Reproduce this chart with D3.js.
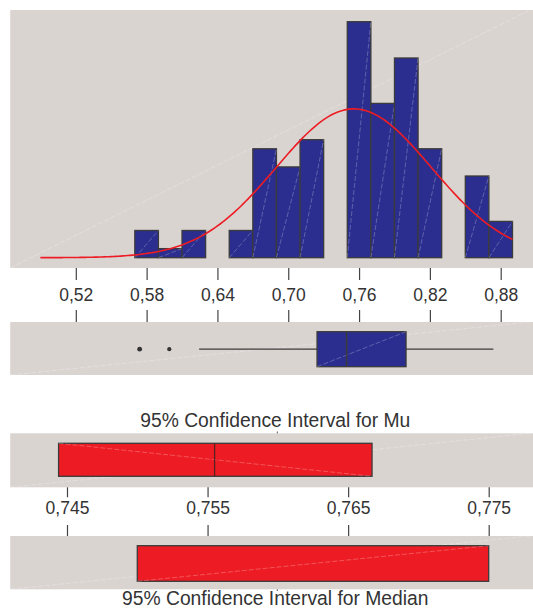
<!DOCTYPE html>
<html>
<head>
<meta charset="utf-8">
<script src="https://cdn.jsdelivr.net/npm/d3@7"></script>
<style>
  html, body { margin: 0; padding: 0; background: #ffffff; }
  svg { display: block; font-family: "Liberation Sans", Arial, Helvetica, sans-serif; }
</style>
</head>
<body>
<svg id="chart" width="533" height="610"></svg>
<script>
// Histogram bins (centres, width 0.02) and their counts
const binCenters = [0.58, 0.60, 0.62, 0.64, 0.66, 0.68, 0.70, 0.72, 0.74, 0.76, 0.78, 0.80, 0.82, 0.84, 0.86, 0.88];
const binCounts  = [3, 1, 3, 0, 3, 12, 10, 13, 0, 26, 17, 22, 12, 0, 9, 4];
const binWidth = 0.02;

// Fitted normal: sample mean, standard deviation, size
const sampleMean = 0.7555;
const sampleSd = 0.0657;
const sampleN = 135;
const curveRange = [0.49, 0.89];

// Box plot summary
const boxStats = { whiskerLow: 0.6245, q1: 0.7244, median: 0.7494, q3: 0.7998, whiskerHigh: 0.8738 };
const outliers = [0.5741, 0.5992];

// Confidence intervals
const ciMu = { low: 0.7444, mid: 0.7555, high: 0.7667 };
const ciMedian = { low: 0.7500, high: 0.7750 };

// Tick labels
const mainTicks = [0.52, 0.58, 0.64, 0.70, 0.76, 0.82, 0.88];
const ciTicks = [0.745, 0.755, 0.765, 0.775];

const panelFill = "#dad4d1";
const barFill = "#2c2e8f";
const edge = "#3b3b3b";
const red = "#ed1c24";
const textColor = "#333333";
const fmtComma = d => d3.format(".2f")(d).replace(".", ",");
const fmtComma3 = d => d3.format(".3f")(d).replace(".", ",");

const svg = d3.select("#chart");

const x = d3.scaleLinear().domain([0.52, 0.88]).range([75.8, 500.7]);
const y = d3.scaleLinear().domain([0, 26]).range([257.7, 21.7]);
const xc = d3.scaleLinear().domain([0.745, 0.775]).range([67.0, 488.7]);
const midX = 275.3;

// faint diagonal seam lines across filled areas
function seam(g, x1, y1, x2, y2) {
  g.append("line")
    .attr("x1", x1).attr("y1", y1).attr("x2", x2).attr("y2", y2)
    .attr("stroke", "#ffffff").attr("stroke-opacity", 0.35)
    .attr("stroke-width", 0.7).attr("stroke-dasharray", "5,2");
}

function panel(top, bottom) {
  const g = svg.append("g");
  g.append("rect").attr("x", 10.2).attr("y", top).attr("width", 530).attr("height", bottom - top).attr("fill", panelFill);
  seam(g, 10.2, bottom, 530, top);
  return g;
}

// ---- Histogram panel ----
const hist = panel(10, 268);
const bars = hist.append("g");
binCenters.forEach((c, i) => {
  const x0 = x(c - binWidth / 2), x1 = x(c + binWidth / 2);
  const yTop = y(binCounts[i]);
  bars.append("rect")
    .attr("x", x0).attr("y", yTop)
    .attr("width", x1 - x0).attr("height", y(0) - yTop)
    .attr("fill", barFill).attr("stroke", edge).attr("stroke-width", 1.3);
  if (binCounts[i] > 0) seam(bars, x0, y(0), x1, yTop);
});

// fitted normal curve, scaled to counts per bin
const normalPdf = v => Math.exp(-0.5 * ((v - sampleMean) / sampleSd) ** 2) / (sampleSd * Math.sqrt(2 * Math.PI));
const curveX = d3.range(curveRange[0], curveRange[1] + 1e-9, 0.002);
hist.append("path")
  .datum(curveX)
  .attr("fill", "none").attr("stroke", red).attr("stroke-width", 1.6)
  .attr("d", d3.line().x(v => x(v)).y(v => y(sampleN * binWidth * normalPdf(v))));

// ---- Main axis between histogram and box plot ----
const axisTop = svg.append("g").attr("transform", "translate(0,268)")
  .call(d3.axisBottom(x).tickValues(mainTicks).tickSize(12).tickFormat(fmtComma));
axisTop.select(".domain").remove();
axisTop.selectAll(".tick line").attr("stroke", "#444").attr("stroke-width", 1.2);
axisTop.selectAll(".tick text")
  .attr("y", 32.5).attr("dy", 0)
  .attr("fill", textColor).attr("font-size", 17.5)
  .attr("font-family", "'Liberation Sans', Arial, sans-serif");

const axisBelow = svg.append("g").attr("transform", "translate(0,322)")
  .call(d3.axisTop(x).tickValues(mainTicks).tickSize(12).tickFormat(""));
axisBelow.select(".domain").remove();
axisBelow.selectAll(".tick line").attr("stroke", "#444").attr("stroke-width", 1.2);

// ---- Box plot panel ----
const bp = panel(322, 375);
const bpY0 = 331.7, bpY1 = 366.7, bpMid = (bpY0 + bpY1) / 2;
bp.append("line").attr("x1", x(boxStats.whiskerLow)).attr("x2", x(boxStats.q1))
  .attr("y1", bpMid).attr("y2", bpMid).attr("stroke", edge).attr("stroke-width", 1.3);
bp.append("line").attr("x1", x(boxStats.q3)).attr("x2", x(boxStats.whiskerHigh))
  .attr("y1", bpMid).attr("y2", bpMid).attr("stroke", edge).attr("stroke-width", 1.3);
bp.append("rect")
  .attr("x", x(boxStats.q1)).attr("y", bpY0)
  .attr("width", x(boxStats.q3) - x(boxStats.q1)).attr("height", bpY1 - bpY0)
  .attr("fill", barFill).attr("stroke", edge).attr("stroke-width", 1.3);
seam(bp, x(boxStats.q1), bpY1, x(boxStats.q3), bpY0);
bp.append("line").attr("x1", x(boxStats.median)).attr("x2", x(boxStats.median))
  .attr("y1", bpY0).attr("y2", bpY1).attr("stroke", edge).attr("stroke-width", 1.5);
bp.selectAll("circle.out").data(outliers).join("circle")
  .attr("cx", d => x(d)).attr("cy", bpMid).attr("r", (d, i) => i === 0 ? 2.4 : 2.1)
  .attr("fill", "#333");

// ---- 95% CI for Mu ----
svg.append("text").attr("x", midX).attr("y", 426.7).attr("text-anchor", "middle")
  .attr("font-size", 19.3).attr("fill", textColor)
  .text("95% Confidence Interval for Mu");

const mu = panel(433.3, 487.3);
const muY0 = 443.3, muY1 = 476.3;
mu.append("rect")
  .attr("x", xc(ciMu.low)).attr("y", muY0)
  .attr("width", xc(ciMu.high) - xc(ciMu.low)).attr("height", muY1 - muY0)
  .attr("fill", red).attr("stroke", edge).attr("stroke-width", 1.3);
seam(mu, xc(ciMu.low), muY0, xc(ciMu.high), muY1);
mu.append("line").attr("x1", xc(ciMu.mid)).attr("x2", xc(ciMu.mid))
  .attr("y1", muY0).attr("y2", muY1).attr("stroke", "#5a2020").attr("stroke-width", 1.3);
svg.append("line").attr("x1", midX + 2).attr("x2", midX + 2).attr("y1", 431.5).attr("y2", 433.3)
  .attr("stroke", "#555").attr("stroke-width", 1);

// ---- CI axis ----
const ciAxisTop = svg.append("g").attr("transform", "translate(0,487.3)")
  .call(d3.axisBottom(xc).tickValues(ciTicks).tickSize(10).tickFormat(fmtComma3));
ciAxisTop.select(".domain").remove();
ciAxisTop.selectAll(".tick line").attr("stroke", "#444").attr("stroke-width", 1.2);
ciAxisTop.selectAll(".tick text")
  .attr("y", 27).attr("dy", 0)
  .attr("fill", textColor).attr("font-size", 17.5)
  .attr("font-family", "'Liberation Sans', Arial, sans-serif");

const ciAxisBelow = svg.append("g").attr("transform", "translate(0,536)")
  .call(d3.axisTop(xc).tickValues(ciTicks).tickSize(11).tickFormat(""));
ciAxisBelow.select(".domain").remove();
ciAxisBelow.selectAll(".tick line").attr("stroke", "#444").attr("stroke-width", 1.2);

// ---- 95% CI for Median ----
const md = panel(536, 589.3);
const mdY0 = 545.7, mdY1 = 581.3;
md.append("rect")
  .attr("x", xc(ciMedian.low)).attr("y", mdY0)
  .attr("width", xc(ciMedian.high) - xc(ciMedian.low)).attr("height", mdY1 - mdY0)
  .attr("fill", red).attr("stroke", edge).attr("stroke-width", 1.3);
seam(md, xc(ciMedian.low), mdY1, xc(ciMedian.high), mdY0);
svg.append("line").attr("x1", midX + 2).attr("x2", midX + 2).attr("y1", 589.3).attr("y2", 591)
  .attr("stroke", "#555").attr("stroke-width", 1);

svg.append("text").attr("x", midX).attr("y", 605).attr("text-anchor", "middle")
  .attr("font-size", 19.3).attr("fill", textColor)
  .text("95% Confidence Interval for Median");
</script>
</body>
</html>
